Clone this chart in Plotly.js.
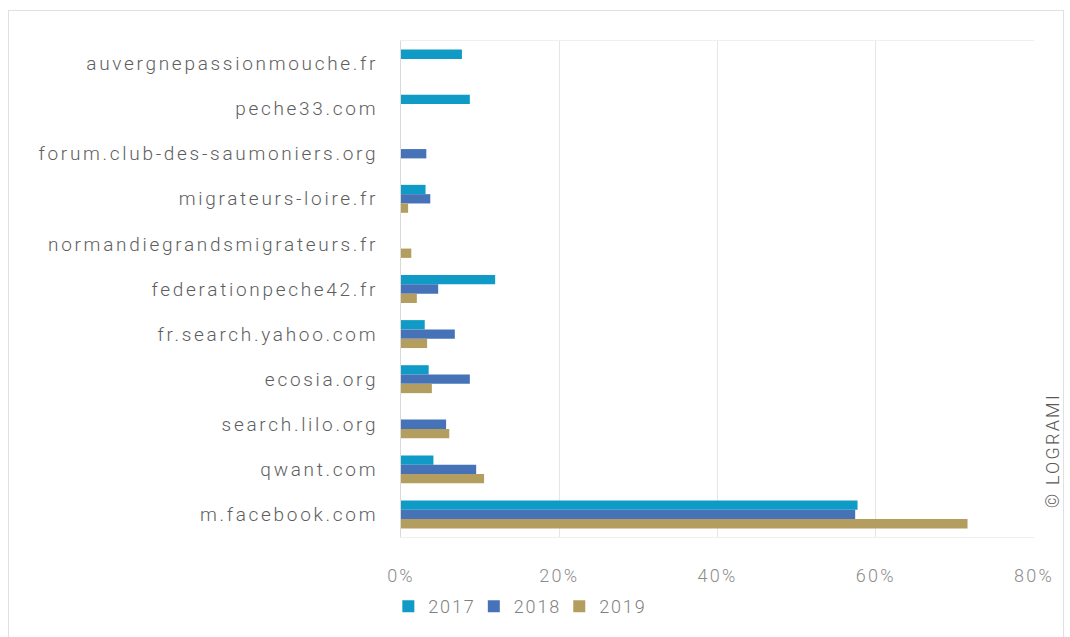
<!DOCTYPE html>
<html>
<head>
<meta charset="utf-8">
<script src="https://cdn.plot.ly/plotly-3.0.1.min.js"></script>
<style>
  html, body { margin: 0; padding: 0; background: #ffffff; }
  #frame { position: absolute; left: 8px; top: 10px; width: 1056px; height: 640px; border: 1px solid #e0e0e0; box-sizing: border-box; }
  #chart { position: absolute; left: 0; top: 0; width: 1070px; height: 637px; }
  #chart .ytick text { letter-spacing: 2.7px; font-weight: 300 !important; }
  #chart .xtick text { letter-spacing: 2.2px; font-weight: 300 !important; }
  #chart .legendtext { letter-spacing: 1.8px; font-weight: 300 !important; }
  #chart .annotation-text { letter-spacing: 2.2px; font-weight: 300 !important; }
</style>
</head>
<body>
<div id="frame"></div>
<div id="chart"></div>
<script>
const categories = [
  "auvergnepassionmouche.fr",
  "peche33.com",
  "forum.club-des-saumoniers.org",
  "migrateurs-loire.fr",
  "normandiegrandsmigrateurs.fr",
  "federationpeche42.fr",
  "fr.search.yahoo.com",
  "ecosia.org",
  "search.lilo.org",
  "qwant.com",
  "m.facebook.com"
];
const seriesNames = ["2017", "2018", "2019"];
const values2017 = [7.7, 8.7, null, 3.1, null, 11.9, 3.0, 3.5, null, 4.1, 57.7];
const values2018 = [null, null, 3.2, 3.7, null, 4.7, 6.8, 8.7, 5.7, 9.5, 57.4];
const values2019 = [null, null, null, 0.9, 1.3, 2.0, 3.3, 3.9, 6.1, 10.5, 71.6];
const tickValues = [0, 20, 40, 60, 80];
const tickLabels = ["0%", "20%", "40%", "60%", "80%"];

const colors = ["#0f9bc6", "#4673b8", "#b39e60"];
const allValues = [values2017, values2018, values2019];

const traces = allValues.map((vals, i) => ({
  type: "bar",
  orientation: "h",
  name: seriesNames[i],
  y: categories,
  x: vals,
  marker: { color: colors[i] },
  hoverinfo: "x+y+name"
}));

const layout = {
  width: 1070,
  height: 637,
  margin: { l: 401, r: 36, t: 41, b: 97 },
  paper_bgcolor: "rgba(0,0,0,0)",
  plot_bgcolor: "#ffffff",
  barmode: "group",
  bargap: 0.38,
  bargroupgap: 0,
  font: { family: "Roboto, 'DejaVu Sans', sans-serif", color: "#595959", size: 16 },
  xaxis: {
    range: [0, 80],
    tickvals: tickValues,
    ticktext: tickLabels,
    showgrid: true,
    gridcolor: "#e6e6e6",
    gridwidth: 1,
    zeroline: false,
    showline: true,
    linecolor: "#efefef",
    mirror: true,
    ticks: "",
    tickfont: { size: 18, color: "#8c8c8c" },
    ticklabelstandoff: 22,
    fixedrange: true
  },
  yaxis: {
    autorange: "reversed",
    type: "category",
    showgrid: false,
    zeroline: false,
    showline: true,
    linecolor: "#d9d9d9",
    ticks: "",
    ticklabelstandoff: 18,
    tickfont: { size: 19, color: "#5e5e5e" },
    fixedrange: true
  },
  legend: {
    orientation: "h",
    x: -0.02,
    xanchor: "left",
    y: -0.14,
    yanchor: "middle",
    font: { size: 18, color: "#7f7f7f" },
    itemwidth: 30,
    tracegroupgap: 0
  },
  annotations: [{
    text: "© LOGRAMI",
    xref: "paper",
    yref: "paper",
    x: 1.029,
    y: 0.175,
    xanchor: "center",
    yanchor: "middle",
    textangle: -90,
    showarrow: false,
    font: { size: 18, color: "#595959" }
  }]
};

Plotly.newPlot("chart", traces, layout, { displayModeBar: false, staticPlot: true });
</script>
</body>
</html>
